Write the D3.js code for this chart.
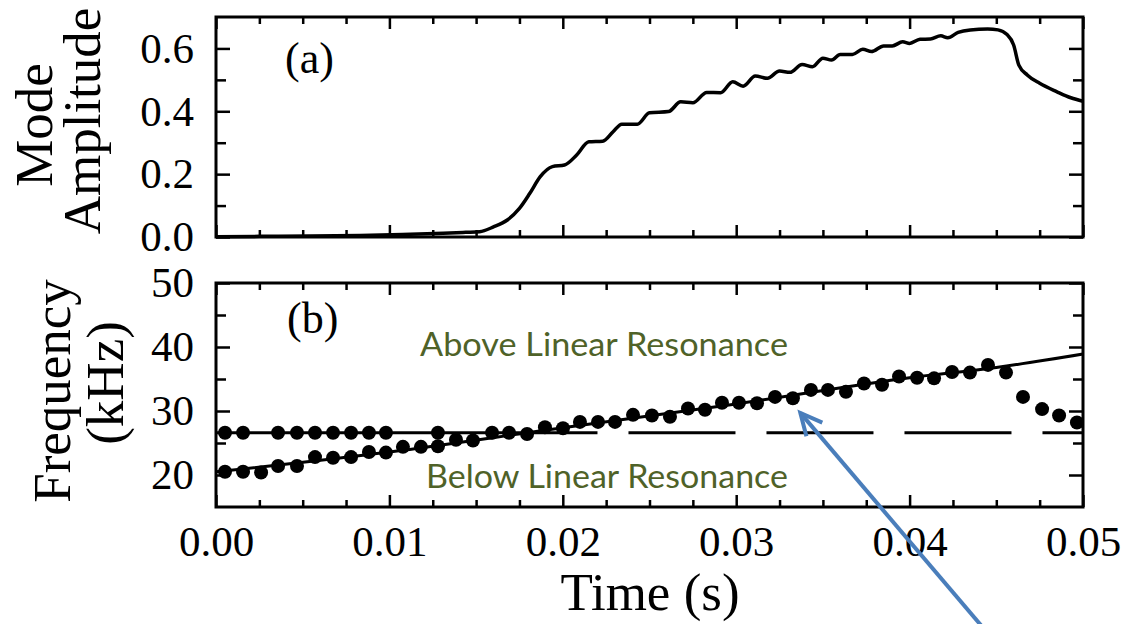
<!DOCTYPE html>
<html>
<head>
<meta charset="utf-8">
<script src="https://cdn.jsdelivr.net/npm/d3@7"></script>
<style>
  body { margin: 0; background: #fff; }
  svg { display: block; }
</style>
</head>
<body>
<script>
// panel (a): mode amplitude, time in ms
var ampTime = [0, 2.5, 5.4, 8.3, 11.2, 13.1, 14.4, 15.2, 16.0, 16.8, 17.5, 18.1, 18.7, 19.4, 20.1,
  20.8, 21.5, 22.3, 22.9, 23.4, 24.3, 25.0, 26.1, 26.8, 27.5, 28.3, 29.1, 29.8, 30.4, 31.1, 31.8,
  32.5, 33.1, 33.8, 34.4, 35.0, 35.5, 36.0, 36.7, 37.3, 37.8, 38.5, 39.0, 39.6, 40.0, 40.6, 41.2,
  41.8, 42.2, 42.8, 43.5, 44.5, 45.1, 45.6, 46.0, 46.3, 46.8, 47.5, 48.5, 49.3, 50.0];
var ampValue = [0.001, 0.002, 0.003, 0.005, 0.009, 0.012, 0.015, 0.017, 0.032, 0.054, 0.091, 0.139, 0.192, 0.224, 0.229,
  0.261, 0.303, 0.305, 0.335, 0.359, 0.359, 0.395, 0.399, 0.430, 0.427, 0.460, 0.459, 0.494, 0.480, 0.512, 0.505,
  0.528, 0.524, 0.549, 0.542, 0.569, 0.563, 0.581, 0.581, 0.597, 0.590, 0.608, 0.608, 0.621, 0.616, 0.629, 0.630,
  0.640, 0.634, 0.651, 0.659, 0.662, 0.659, 0.645, 0.611, 0.547, 0.515, 0.489, 0.462, 0.443, 0.432];

// panel (b): measured frequency, kHz
var freqTime = [0.52, 1.56, 2.60, 3.58, 4.67, 5.71, 6.75, 7.79, 8.82, 9.80, 10.78, 11.82, 12.80, 13.84,
  14.82, 15.92, 16.90, 17.94, 18.97, 20.01, 20.99, 22.03, 23.01, 24.05, 25.14, 26.18, 27.22, 28.20,
  29.18, 30.16, 31.20, 32.24, 33.27, 34.31, 35.29, 36.33, 37.37, 38.41, 39.39, 40.43, 41.41, 42.45,
  43.48, 44.52, 45.56, 46.54, 47.64, 48.62, 49.65];
var freqValue = [20.5, 20.5, 20.4, 21.4, 21.4, 22.8, 22.7, 22.8, 23.6, 23.5, 24.4, 24.4, 24.5, 25.5,
  25.4, 26.6, 26.6, 26.4, 27.45, 27.3, 28.3, 28.3, 28.3, 29.4, 29.3, 29.1, 30.4, 30.2,
  31.3, 31.3, 31.2, 32.2, 32.0, 33.3, 33.3, 33.0, 34.3, 34.1, 35.4, 35.2, 35.1, 36.1,
  36.0, 37.2, 36.0, 32.2, 30.3, 29.3, 28.2];
var upperTime = [0.52, 1.56, 3.58, 4.67, 5.71, 6.75, 7.79, 8.82, 9.80, 12.80];
var upperValue = [26.6, 26.6, 26.6, 26.6, 26.6, 26.6, 26.6, 26.6, 26.6, 26.6];
var fitTime = [0, 10, 20, 30, 40, 45, 50];
var fitValue = [20.5, 23.6, 27.4, 31.1, 35.2, 36.8, 38.9];
var linearRes = 26.6;
var solidEnd = 22.0;

var xTicks = [0, 10, 20, 30, 40, 50];
var ampTicks = [0, 0.2, 0.4, 0.6];
var ampMinor = [0.1, 0.3, 0.5];
var freqTicks = [20, 30, 40, 50];
var freqMinor = [25, 35, 45];
var arrowTip = [33.7, 29.7];

var width = 1124, height = 624;
var serif = "'Liberation Serif', 'Times New Roman', serif";

var svg = d3.select("body").append("svg")
    .attr("width", width)
    .attr("height", height)
    .style("background", "#fff");

var x = d3.scaleLinear().domain([0, 50]).range([216, 1083]);
var yA = d3.scaleLinear().domain([0, 0.7]).range([237, 17]);
var yB = d3.scaleLinear().domain([15, 50]).range([507, 283]);
var xMinor = d3.range(2.5, 50, 2.5).filter(function(d) { return d % 10 !== 0; });

function frame(y, major, minor, fmt, showX) {
    var g = svg.append("g");
    var r = y.range();
    var top = r[1], bottom = r[0];

    g.append("g").attr("transform", "translate(0," + bottom + ")")
        .call(d3.axisBottom(x).tickValues(xTicks).tickSize(-12).tickPadding(18)
            .tickFormat(showX ? function(d) { return (d / 1000).toFixed(2); } : ""));
    g.append("g").attr("transform", "translate(0," + bottom + ")")
        .call(d3.axisBottom(x).tickValues(xMinor).tickSize(-7).tickFormat(""));
    g.append("g").attr("transform", "translate(0," + top + ")")
        .call(d3.axisTop(x).tickValues(xTicks).tickSize(-12).tickFormat(""));
    g.append("g").attr("transform", "translate(0," + top + ")")
        .call(d3.axisTop(x).tickValues(xMinor).tickSize(-7).tickFormat(""));

    g.append("g").attr("transform", "translate(216,0)")
        .call(d3.axisLeft(y).tickValues(major).tickSize(-14).tickPadding(22).tickFormat(fmt));
    g.append("g").attr("transform", "translate(216,0)")
        .call(d3.axisLeft(y).tickValues(minor).tickSize(-10).tickFormat(""));
    g.append("g").attr("transform", "translate(1083,0)")
        .call(d3.axisRight(y).tickValues(major).tickSize(-14).tickFormat(""));
    g.append("g").attr("transform", "translate(1083,0)")
        .call(d3.axisRight(y).tickValues(minor).tickSize(-10).tickFormat(""));

    g.selectAll(".domain").remove();
    g.selectAll(".tick line").attr("stroke", "#000").attr("stroke-width", 2.5);
    g.selectAll(".tick text").attr("font-family", serif).attr("font-size", 43).attr("fill", "#000");

    g.append("rect")
        .attr("x", 216).attr("y", top)
        .attr("width", 1083 - 216).attr("height", bottom - top)
        .attr("fill", "none").attr("stroke", "#000").attr("stroke-width", 3);
}

frame(yA, ampTicks, ampMinor, function(d) { return d.toFixed(1); }, false);
frame(yB, freqTicks, freqMinor, function(d) { return d; }, true);

// panel (a) curve
var ampData = ampTime.map(function(t, i) { return [t, ampValue[i]]; });
svg.append("path")
    .datum(ampData)
    .attr("fill", "none")
    .attr("stroke", "#000")
    .attr("stroke-width", 3.5)
    .attr("stroke-linejoin", "round")
    .attr("d", d3.line()
        .curve(d3.curveMonotoneX)
        .x(function(d) { return x(d[0]); })
        .y(function(d) { return yA(d[1]); }));

// panel (b) lines
svg.append("path")
    .datum([[0, linearRes], [solidEnd, linearRes]])
    .attr("stroke", "#000").attr("stroke-width", 3)
    .attr("d", d3.line().x(function(d) { return x(d[0]); }).y(function(d) { return yB(d[1]); }));
svg.append("path")
    .datum([[solidEnd, linearRes], [50, linearRes]])
    .attr("stroke", "#000").attr("stroke-width", 3)
    .attr("stroke-dasharray", "107 31")
    .attr("stroke-dashoffset", 107)
    .attr("d", d3.line().x(function(d) { return x(d[0]); }).y(function(d) { return yB(d[1]); }));

var fitData = fitTime.map(function(t, i) { return [t, fitValue[i]]; });
svg.append("path")
    .datum(fitData)
    .attr("fill", "none")
    .attr("stroke", "#000")
    .attr("stroke-width", 3)
    .attr("d", d3.line()
        .curve(d3.curveMonotoneX)
        .x(function(d) { return x(d[0]); })
        .y(function(d) { return yB(d[1]); }));

svg.append("g").selectAll("circle")
    .data(upperTime.map(function(t, i) { return [t, upperValue[i]]; }))
    .enter().append("circle")
        .attr("cx", function(d) { return x(d[0]); })
        .attr("cy", function(d) { return yB(d[1]); })
        .attr("r", 7)
        .attr("fill", "#000");

svg.append("g").selectAll("circle")
    .data(freqTime.map(function(t, i) { return [t, freqValue[i]]; }))
    .enter().append("circle")
        .attr("cx", function(d) { return x(d[0]); })
        .attr("cy", function(d) { return yB(d[1]); })
        .attr("r", 7)
        .attr("fill", "#000");

// labels
svg.append("text").attr("x", 285).attr("y", 73)
    .attr("font-family", serif).attr("font-size", 44).text("(a)");
svg.append("text").attr("x", 287).attr("y", 333)
    .attr("font-family", serif).attr("font-size", 44).text("(b)");

svg.append("text")
    .attr("transform", "translate(52,125) rotate(-90)")
    .attr("text-anchor", "middle")
    .attr("font-family", serif).attr("font-size", 53).text("Mode");
svg.append("text")
    .attr("transform", "translate(100,121) rotate(-90)")
    .attr("text-anchor", "middle")
    .attr("font-family", serif).attr("font-size", 53).text("Amplitude");
svg.append("text")
    .attr("transform", "translate(70,391) rotate(-90)")
    .attr("text-anchor", "middle")
    .attr("font-family", serif).attr("font-size", 53).text("Frequency");
svg.append("text")
    .attr("transform", "translate(123,383) rotate(-90)")
    .attr("text-anchor", "middle")
    .attr("font-family", serif).attr("font-size", 53).text("(kHz)");
svg.append("text")
    .attr("x", 650).attr("y", 610)
    .attr("text-anchor", "middle")
    .attr("font-family", serif).attr("font-size", 53).text("Time (s)");

svg.append("text")
    .attr("x", 420).attr("y", 356)
    .attr("font-family", "Lato, 'Open Sans', sans-serif").attr("font-size", 32)
    .attr("fill", "#4f6228")
    .attr("textLength", 368).attr("lengthAdjust", "spacingAndGlyphs")
    .text("Above Linear Resonance");
svg.append("text")
    .attr("x", 426).attr("y", 488)
    .attr("font-family", "Lato, 'Open Sans', sans-serif").attr("font-size", 32)
    .attr("fill", "#4f6228")
    .attr("textLength", 362).attr("lengthAdjust", "spacingAndGlyphs")
    .text("Below Linear Resonance");

// blue arrow
var tipX = x(arrowTip[0]), tipY = yB(arrowTip[1]);
var tailX = 985, tailY = 630;
var ang = Math.atan2(tipY - tailY, tipX - tailX);
var head = 24, spread = 0.45;
svg.append("line")
    .attr("x1", tailX).attr("y1", tailY).attr("x2", tipX).attr("y2", tipY)
    .attr("stroke", "#4a7ebb").attr("stroke-width", 4);
svg.append("path")
    .attr("d", "M" + (tipX - head * Math.cos(ang - spread)) + "," + (tipY - head * Math.sin(ang - spread)) +
        "L" + tipX + "," + tipY +
        "L" + (tipX - head * Math.cos(ang + spread)) + "," + (tipY - head * Math.sin(ang + spread)))
    .attr("fill", "none").attr("stroke", "#4a7ebb").attr("stroke-width", 4)
    .attr("stroke-linejoin", "miter");
</script>
</body>
</html>
